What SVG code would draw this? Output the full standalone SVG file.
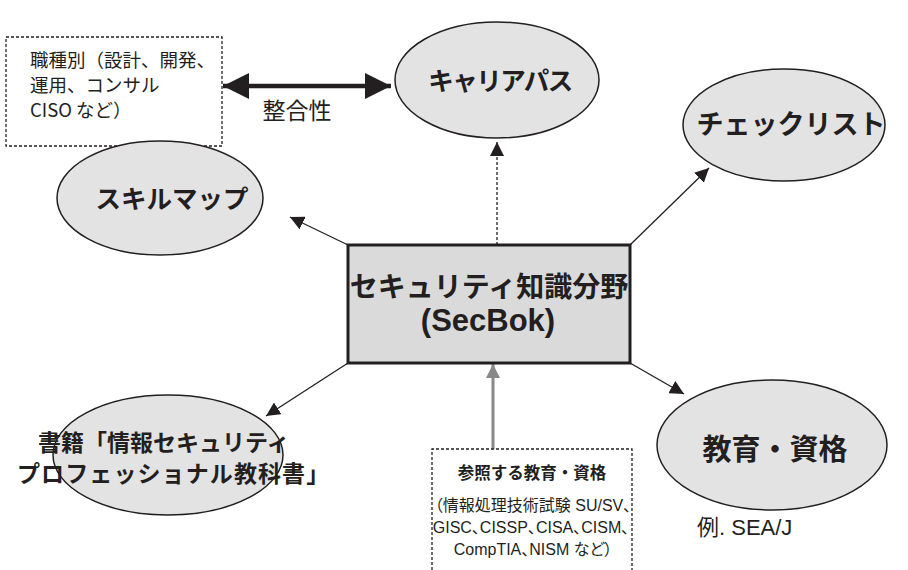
<svg xmlns="http://www.w3.org/2000/svg" width="908" height="570" viewBox="0 0 908 570">
<defs>
<style>
text{font-family:"Liberation Sans","Noto Sans CJK JP",sans-serif;fill:#231f20}
.b{font-weight:bold}
.j{font-family:"Noto Sans CJK JP","Liberation Sans",sans-serif}
.p{font-feature-settings:"palt"}
.ell{fill:#e3e3e4;stroke:#231f20;stroke-width:1.5}
.con{stroke:#231f20;stroke-width:1.3;fill:none}
.dot{stroke:#231f20;stroke-width:1.3;fill:none;stroke-dasharray:3 2}
</style>
<marker id="ah" viewBox="0 0 10 10" refX="10" refY="5" markerWidth="14" markerHeight="14" markerUnits="userSpaceOnUse" orient="auto"><path d="M0,0L10,5L0,10z" fill="#231f20"/></marker>
<marker id="big" viewBox="0 0 10 10" refX="10" refY="5" markerWidth="26" markerHeight="26" markerUnits="userSpaceOnUse" orient="auto-start-reverse"><path d="M0,0L10,5L0,10z" fill="#231f20"/></marker>
<marker id="gah" viewBox="0 0 10 10" refX="10" refY="5" markerWidth="14" markerHeight="14" markerUnits="userSpaceOnUse" orient="auto"><path d="M0,0L10,5L0,10z" fill="#888"/></marker>
</defs>
<rect width="908" height="570" fill="#fff"/>
<g id="connectors">
<line class="dot" x1="497" y1="245" x2="497" y2="142" marker-end="url(#ah)"/>
<line class="con" x1="348" y1="245" x2="290" y2="217" marker-end="url(#ah)"/>
<line class="con" x1="630" y1="245" x2="709" y2="168" marker-end="url(#ah)"/>
<line class="con" x1="348" y1="363" x2="266" y2="416" marker-end="url(#ah)"/>
<line class="con" x1="630" y1="363" x2="684" y2="394" marker-end="url(#ah)"/>
<line x1="493" y1="449" x2="493" y2="364" stroke="#888" stroke-width="3" marker-end="url(#gah)"/>
<line x1="223" y1="86" x2="391" y2="86" stroke="#231f20" stroke-width="4.5" marker-start="url(#big)" marker-end="url(#big)"/>
<text class="j" x="297" y="119" font-size="23" text-anchor="middle">整合性</text>
</g>
<g id="roles">
<rect x="6" y="37" width="216" height="109" class="dot"/>
<text class="j" font-size="18.5"><tspan x="30" y="67">職種別（設計、開発、</tspan><tspan x="30" y="92">運用、コンサル</tspan><tspan x="30" y="117">CISO など）</tspan></text>
</g>
<g id="career">
<ellipse class="ell" cx="497" cy="80" rx="102" ry="58"/>
<text class="b j" x="500" y="90" font-size="25.5" letter-spacing="-1.5" text-anchor="middle">キャリアパス</text>
</g>
<g id="checklist">
<ellipse class="ell" cx="784" cy="125" rx="101" ry="56"/>
<text class="b j" x="791" y="134" font-size="27" text-anchor="middle">チェックリスト</text>
</g>
<g id="skillmap">
<ellipse class="ell" cx="160" cy="198" rx="103" ry="57"/>
<text class="b j" x="172" y="208" font-size="25.5" text-anchor="middle">スキルマップ</text>
</g>
<g id="secbok">
<rect x="348" y="245" width="282" height="118" fill="#dadadb" stroke="#231f20" stroke-width="3"/>
<text class="b j" x="489" y="297" font-size="28" text-anchor="middle">セキュリティ知識分野</text>
<text class="b" x="488" y="331" font-size="31" text-anchor="middle">(SecBok)</text>
</g>
<g id="book">
<ellipse class="ell" cx="168" cy="455" rx="115" ry="60"/>
<text class="b j" x="38" y="451" font-size="23">書籍「情報セキュリティ</text>
<text class="b j" x="17" y="482" font-size="23" letter-spacing="1.1">プロフェッショナル教科書」</text>
</g>
<g id="reference">
<path class="dot" d="M432,570V449H632V570"/>
<text class="b j" x="532" y="479" font-size="16.5" text-anchor="middle">参照する教育・資格</text>
<text class="p" font-size="16" text-anchor="middle"><tspan x="533" y="511">（情報処理技術試験 SU/SV、</tspan><tspan x="531" y="533">GISC、CISSP、CISA、CISM、</tspan><tspan x="533" y="555">CompTIA、NISM など）</tspan></text>
</g>
<g id="education">
<ellipse class="ell" cx="772" cy="445" rx="115" ry="65"/>
<text class="b j" x="775" y="460" font-size="29" text-anchor="middle">教育・資格</text>
<text x="697" y="535" font-size="22">例. SEA/J</text>
</g>
</svg>
